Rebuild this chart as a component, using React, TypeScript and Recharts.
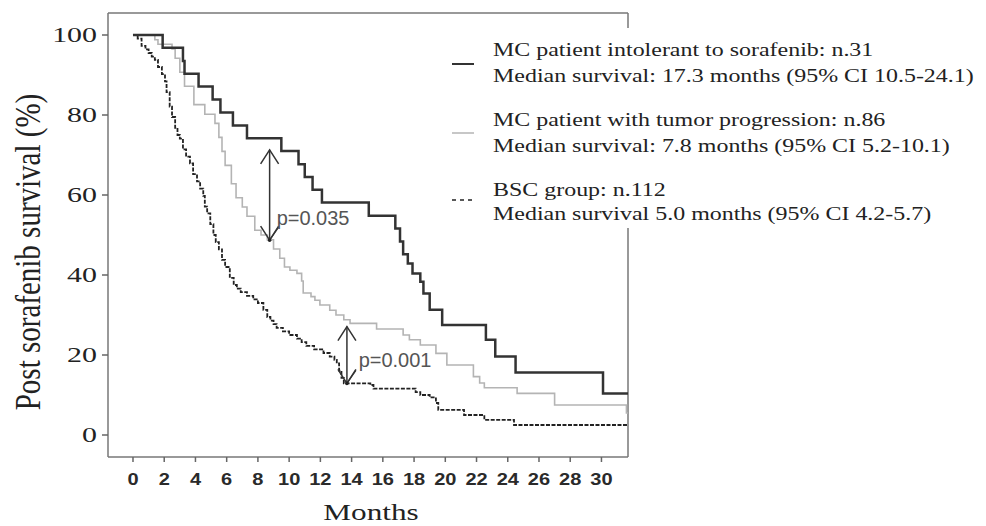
import React from 'react';
import { LineChart, Line, XAxis, YAxis, ReferenceLine, ReferenceDot } from 'recharts';

// ---------- data ----------
const monthTicks = [0, 2, 4, 6, 8, 10, 12, 14, 16, 18, 20, 22, 24, 26, 28, 30];
const survivalTicks = [0, 20, 40, 60, 80, 100];

const seriesNames = [
  'MC patient intolerant to sorafenib: n.31',
  'MC patient with tumor progression: n.86',
  'BSC group: n.112',
];
const medianLabels = [
  'Median survival: 17.3 months (95% CI 10.5-24.1)',
  'Median survival: 7.8 months (95% CI 5.2-10.1)',
  'Median survival 5.0 months (95% CI 4.2-5.7)',
];

const intolerantMonths = [0, 1.9, 3.2, 3.3, 4.2, 5.1, 5.6, 6.4, 7.3, 9.5, 10.6, 11.0, 11.5, 12.1, 15.1, 16.8, 17.1, 17.3, 17.6, 17.9, 18.4, 18.6, 19.0, 19.8, 22.6, 23.2, 24.5, 30.1, 31.7];
const intolerantSurvival = [100, 96.8, 93.5, 90.3, 87.1, 83.9, 80.6, 77.4, 74.2, 71.0, 67.7, 64.5, 61.3, 58.1, 54.8, 51.6, 48.4, 45.2, 42.9, 40.4, 38.3, 35.4, 31.3, 27.5, 23.8, 19.6, 15.6, 10.4, 10.4];

const progressionMonths = [0, 1.4, 1.6, 2.5, 2.7, 3.0, 3.3, 3.9, 4.6, 5.25, 5.5, 5.7, 5.9, 6.3, 6.6, 7.0, 7.3, 7.8, 8.2, 8.6, 9.0, 9.4, 9.7, 10.05, 10.5, 10.8, 10.9, 11.4, 11.65, 11.97, 12.6, 13.0, 13.5, 13.9, 15.6, 17.3, 17.7, 18.4, 19.4, 20.1, 21.8, 22.2, 22.5, 24.6, 27.0, 31.6, 31.7];
const progressionSurvival = [100, 98.8, 97.7, 96.5, 94.2, 90.7, 87.2, 82.6, 80.2, 77.9, 74.4, 70.9, 67.4, 62.8, 59.3, 57.0, 54.7, 51.2, 50.0, 48.8, 46.5, 44.2, 42.0, 41.2, 40.4, 38.5, 35.5, 34.6, 33.7, 32.5, 31.2, 30.0, 28.8, 27.9, 26.5, 25.0, 23.8, 22.5, 20.4, 17.5, 14.6, 13.0, 11.8, 10.4, 7.5, 5.5, 5.5];

const bscMonths = [0, 0.3, 0.55, 0.8, 1.0, 1.2, 1.4, 1.6, 1.85, 2.05, 2.15, 2.35, 2.5, 2.7, 2.85, 3.0, 3.2, 3.4, 3.65, 3.85, 4.1, 4.3, 4.5, 4.6, 4.75, 4.95, 5.15, 5.3, 5.5, 5.7, 5.9, 6.2, 6.45, 6.65, 6.9, 7.3, 7.7, 8.0, 8.35, 8.6, 8.8, 9.0, 9.2, 9.6, 10.0, 10.5, 10.8, 11.1, 11.6, 12.2, 12.6, 12.9, 13.05, 13.2, 13.35, 13.5, 15.2, 15.4, 18.1, 18.4, 19.0, 19.4, 19.55, 21.2, 22.5, 24.4, 31.7];
const bscSurvival = [100, 99.1, 97.3, 96.4, 95.5, 94.6, 93.8, 92.0, 90.2, 88.4, 85.7, 82.1, 79.5, 76.8, 75.0, 74.1, 71.4, 69.6, 67.9, 65.2, 63.4, 61.6, 59.8, 57.1, 55.4, 52.7, 50.0, 48.2, 46.4, 43.8, 42.0, 39.3, 37.5, 36.6, 35.7, 34.8, 33.9, 33.0, 31.3, 29.5, 28.6, 27.7, 26.8, 25.9, 25.0, 24.1, 23.2, 22.3, 21.4, 20.5, 19.6, 18.8, 17.9, 16.1, 14.3, 12.9, 12.5, 11.6, 10.7, 10.0, 9.4, 8.0, 6.3, 5.0, 3.8, 2.5, 2.5];

// comparison annotations
const compMonths = [8.75, 13.7];
const compUpper = [71.3, 27.1];
const compLower = [48.7, 12.9];
const compLabelMonths = [9.2, 14.45];
const compLabelSurvival = [54.3, 18.8];
const compTexts = ['p=0.035', 'p=0.001'];

const xDomain = [-1.6, 31.7];
const yDomain = [-5.5, 105.5];

const zip = (ms: number[], vs: number[]) => ms.map((m, i) => ({ m, v: vs[i] }));
const intolerantData = zip(intolerantMonths, intolerantSurvival);
const progressionData = zip(progressionMonths, progressionSurvival);
const bscData = zip(bscMonths, bscSurvival);

const SERIF = '"Liberation Serif", "Times New Roman", serif';
const SANS = '"Liberation Sans", Arial, sans-serif';

const YTick = (props: any) => {
  const { x, y, payload } = props;
  return (
    <text
      transform={`translate(${x - 3},${y}) scale(1.36,1)`}
      textAnchor="end"
      dominantBaseline="central"
      fontFamily={SERIF}
      fontSize={22}
      fill="#222"
    >
      {payload.value}
    </text>
  );
};

const XTick = (props: any) => {
  const { x, y, payload } = props;
  return (
    <text
      transform={`translate(${x},${y + 16}) scale(1.25,1)`}
      textAnchor="middle"
      dominantBaseline="central"
      fontFamily={SANS}
      fontWeight="bold"
      fontSize={16}
      fill="#2a2a2a"
    >
      {payload.value}
    </text>
  );
};

const UpHead = (p: any) => (
  <path d={`M${p.cx - 9},${p.cy + 14} L${p.cx},${p.cy} L${p.cx + 9},${p.cy + 14}`} fill="none" stroke="#333" strokeWidth={1.5} />
);
const DownHead = (p: any) => (
  <g>
    <path d={`M${p.cx - 9},${p.cy - 14} L${p.cx},${p.cy} L${p.cx + 9},${p.cy - 14}`} fill="none" stroke="#333" strokeWidth={1.5} />
    <path d={`M${p.cx},${p.cy} L${p.cx + 9},${p.cy - 13}`} fill="none" stroke="#333" strokeWidth={1.2} />
    <circle cx={p.cx} cy={p.cy} r={1.8} fill="#222" />
  </g>
);
const makeLabel = (text: string) => (p: any) => (
  <text x={p.cx} y={p.cy} dominantBaseline="central" fontFamily={SANS} fontSize={20} fill="#555">
    {text}
  </text>
);

const lineStyles = [
  { stroke: '#333333', width: 2.5, dash: undefined as string | undefined },
  { stroke: '#b4b4b4', width: 1.6, dash: undefined as string | undefined },
  { stroke: '#222222', width: 1.8, dash: '4 1.5' },
];

const LegendBox = () => {
  const textTops = [[38, 64], [108, 134], [178, 202]];
  const symbolY = [64, 133, 200];
  return (
    <div style={{ position: 'absolute', left: 442, top: 28, width: 544, height: 200, background: '#fff' }}>
      {seriesNames.map((name, i) => (
        <React.Fragment key={name}>
          <svg style={{ position: 'absolute', left: 452 - 442, top: symbolY[i] - 28 - 3 }} width={24} height={6}>
            <line x1={0} y1={3} x2={22} y2={3} stroke={lineStyles[i].stroke} strokeWidth={i === 0 ? 2 : 1.5} strokeDasharray={i === 2 ? '4 4' : undefined} />
          </svg>
          {[name, medianLabels[i]].map((t, j) => (
            <div
              key={t}
              style={{
                position: 'absolute',
                left: 493 - 442,
                top: textTops[i][j] - 28,
                fontFamily: SERIF,
                fontSize: 18,
                lineHeight: '24px',
                color: '#222',
                whiteSpace: 'nowrap',
                transform: 'scaleX(1.33)',
                transformOrigin: 'left center',
              }}
            >
              {t}
            </div>
          ))}
        </React.Fragment>
      ))}
    </div>
  );
};

export default function App() {
  return (
    <div style={{ position: 'absolute', left: 0, top: 0, width: 986, height: 526, background: '#fff' }}>
      <LineChart width={986} height={526} margin={{ top: 13, right: 358, left: 0, bottom: 0 }}>
        <XAxis
          dataKey="m"
          type="number"
          domain={xDomain}
          ticks={monthTicks}
          allowDataOverflow
          height={69}
          tick={<XTick />}
          tickSize={5}
          tickLine={{ stroke: '#666', strokeWidth: 1.5 }}
          axisLine={{ stroke: '#777', strokeWidth: 1.5 }}
        />
        <YAxis
          type="number"
          domain={yDomain}
          ticks={survivalTicks}
          allowDataOverflow
          width={108}
          tick={<YTick />}
          tickSize={6}
          tickLine={{ stroke: '#666', strokeWidth: 1.5 }}
          axisLine={{ stroke: '#777', strokeWidth: 1.5 }}
        />
        <ReferenceLine y={yDomain[1]} stroke="#777" strokeWidth={1.5} />
        <ReferenceLine x={xDomain[1]} stroke="#777" strokeWidth={1.5} />
        <Line data={bscData} dataKey="v" type="stepAfter" stroke={lineStyles[2].stroke} strokeWidth={lineStyles[2].width} strokeDasharray={lineStyles[2].dash} dot={false} activeDot={false} isAnimationActive={false} />
        <Line data={progressionData} dataKey="v" type="stepAfter" stroke={lineStyles[1].stroke} strokeWidth={lineStyles[1].width} dot={false} activeDot={false} isAnimationActive={false} />
        <Line data={intolerantData} dataKey="v" type="stepAfter" stroke={lineStyles[0].stroke} strokeWidth={lineStyles[0].width} dot={false} activeDot={false} isAnimationActive={false} />
        {compMonths.map((m, i) => (
          <ReferenceLine key={`s${i}`} segment={[{ x: m, y: compUpper[i] }, { x: m, y: compLower[i] }]} stroke="#333" strokeWidth={1.5} />
        ))}
        {compMonths.map((m, i) => (
          <ReferenceDot key={`u${i}`} x={m} y={compUpper[i]} shape={UpHead} />
        ))}
        {compMonths.map((m, i) => (
          <ReferenceDot key={`d${i}`} x={m} y={compLower[i]} shape={DownHead} />
        ))}
        {compTexts.map((t, i) => (
          <ReferenceDot key={`t${i}`} x={compLabelMonths[i]} y={compLabelSurvival[i]} shape={makeLabel(t)} />
        ))}
      </LineChart>
      <div
        style={{
          position: 'absolute',
          left: 371,
          top: 512,
          transform: 'translate(-50%,-50%) scaleX(1.3)',
          fontFamily: SERIF,
          fontSize: 24,
          color: '#222',
          whiteSpace: 'nowrap',
        }}
      >
        Months
      </div>
      <div
        style={{
          position: 'absolute',
          left: 29,
          top: 252,
          transform: 'translate(-50%,-50%) scaleX(1.2) rotate(-90deg)',
          fontFamily: SERIF,
          fontSize: 29,
          color: '#222',
          whiteSpace: 'nowrap',
        }}
      >
        Post sorafenib survival (%)
      </div>
      <LegendBox />
    </div>
  );
}
